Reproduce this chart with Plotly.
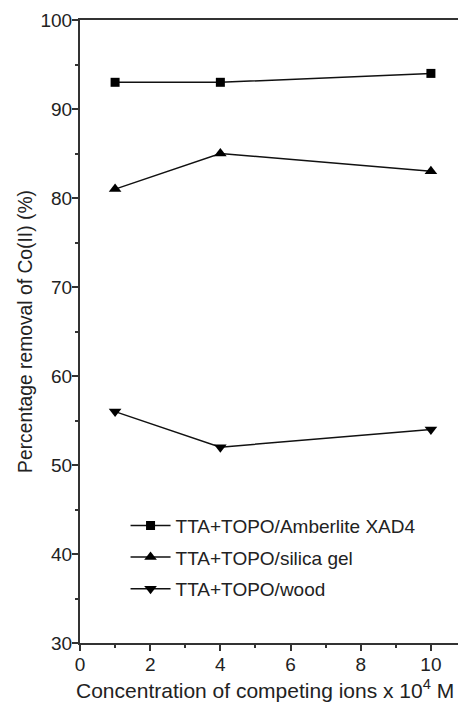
import plotly.graph_objects as go

x_vals = [1, 4, 10]
amberlite = [93, 93, 94]
silica = [81, 85, 83]
wood = [56, 52, 54]
names = ["TTA+TOPO/Amberlite XAD4", "TTA+TOPO/silica gel", "TTA+TOPO/wood"]
symbols = ["square", "triangle-up", "triangle-down"]
x_title = "Concentration of competing ions x 10<sup>4</sup> M"
y_title = "Percentage removal of Co(II) (%)"

fig = go.Figure()
for i, (ys, nm, sym) in enumerate(zip([amberlite, silica, wood], names, symbols)):
    fig.add_trace(go.Scatter(
        x=x_vals, y=ys, name=nm, mode="lines+markers",
        line=dict(color="#111", width=1.5),
        marker=dict(symbol=sym, size=11 if i else 9, color="#000"),
        legendgroup=f"g{i}",
    ))

font = "Liberation Sans, Arial, sans-serif"
fig.update_layout(
    width=466, height=703,
    margin=dict(l=72, r=8, t=12, b=68),
    paper_bgcolor="white", plot_bgcolor="white",
    font=dict(family=font, size=19, color="#222"),
    showlegend=True,
    legend=dict(x=0.118, y=0.219, xanchor="left", yanchor="top",
                bgcolor="rgba(0,0,0,0)", traceorder="grouped",
                tracegroupgap=4, font=dict(size=19), itemwidth=40),
    xaxis=dict(
        range=[0, 11], tickvals=[0, 2, 4, 6, 8, 10], automargin=False,
        showgrid=False, zeroline=False,
        showline=True, linecolor="#333", linewidth=2, mirror=True,
        ticks="outside", ticklen=6, tickcolor="#333", tickwidth=1.5,
        ticklabelstandoff=-3,
        minor=dict(dtick=1, ticks="outside", ticklen=3, tickcolor="#333", tickwidth=1.5),
    ),
    yaxis=dict(
        range=[30, 100], tickvals=[30, 40, 50, 60, 70, 80, 90, 100], automargin=False,
        showgrid=False, zeroline=False,
        showline=True, linecolor="#333", linewidth=2,
        ticks="outside", ticklen=6, tickcolor="#333", tickwidth=1.5,
        ticklabelstandoff=-4,
        minor=dict(dtick=5, ticks="outside", ticklen=3, tickcolor="#333", tickwidth=1.5),
        title=dict(text=y_title, font=dict(size=19.3), standoff=3),
    ),
    annotations=[dict(
        text=x_title, xref="paper", yref="paper", x=0.479, y=-0.074,
        xanchor="center", yanchor="middle", showarrow=False,
        font=dict(size=21, family=font, color="#222"),
    )],
)
fig.write_html("out.html")
